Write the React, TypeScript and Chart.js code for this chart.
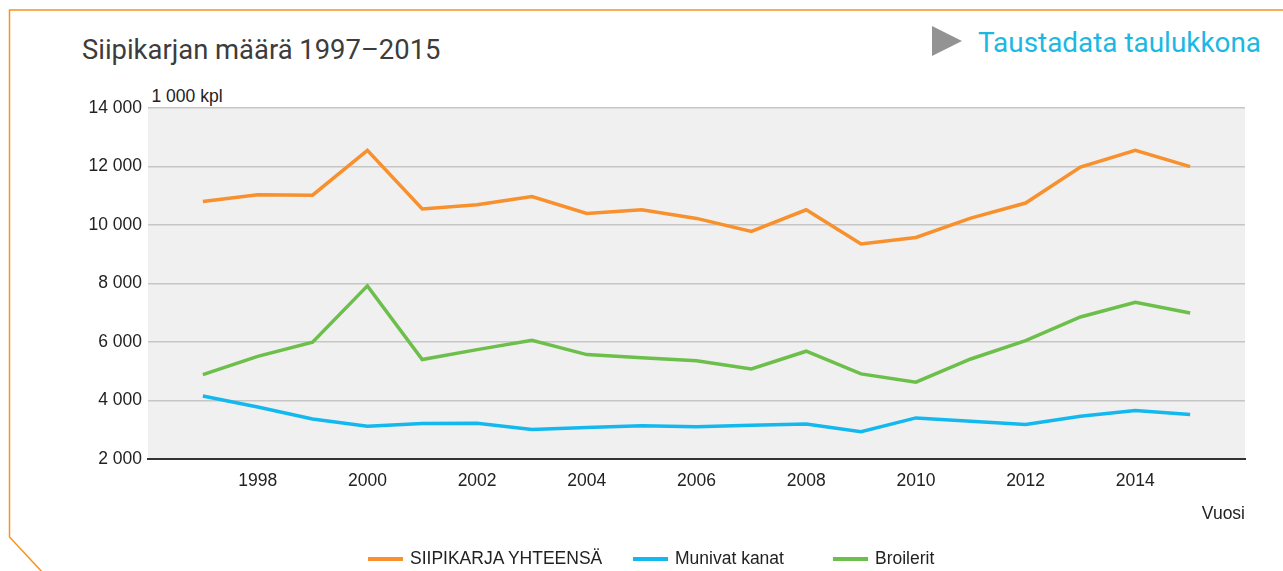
import React, { useEffect, useRef } from "react";
import { Chart, registerables } from "chart.js";

Chart.register(...registerables);

// ---- data ----
const years = [1997, 1998, 1999, 2000, 2001, 2002, 2003, 2004, 2005, 2006, 2007, 2008, 2009, 2010, 2011, 2012, 2013, 2014, 2015];
const totalPoultry = [10800, 11030, 11020, 12550, 10545, 10690, 10975, 10395, 10520, 10225, 9780, 10520, 9350, 9575, 10235, 10750, 11980, 12550, 11995];
const layingHens = [4155, 3780, 3370, 3120, 3210, 3220, 3005, 3075, 3140, 3105, 3150, 3200, 2930, 3405, 3290, 3180, 3460, 3655, 3520];
const broilers = [4885, 5510, 5990, 7920, 5400, 5740, 6055, 5570, 5465, 5355, 5080, 5685, 4910, 4625, 5420, 6045, 6855, 7355, 6990];
const xTickYears = [1998, 2000, 2002, 2004, 2006, 2008, 2010, 2012, 2014];
const yTickValues = [2000, 4000, 6000, 8000, 10000, 12000, 14000];
const seriesLabels = ["SIIPIKARJA YHTEENSÄ", "Munivat kanat", "Broilerit"];
const seriesColors = ["#f7902d", "#13b9ee", "#6cbf4a"];
const titleText = "Siipikarjan määrä 1997–2015";
const linkText = "Taustadata taulukkona";
const unitText = "1 000 kpl";
const xTitleText = "Vuosi";

const ARIAL = "'Liberation Sans', Arial, sans-serif";

const fmt = (v: number) => String(v).replace(/\B(?=(\d{3})+(?!\d))/g, " ");

const plotBg = {
  id: "plotBg",
  beforeDraw(chart: any) {
    const { ctx, chartArea: a } = chart;
    ctx.save();
    ctx.fillStyle = "#f0f0f0";
    ctx.fillRect(a.left, a.top, a.right - a.left, a.bottom - a.top);
    ctx.restore();
  },
};

export default function App() {
  const canvasRef = useRef<HTMLCanvasElement | null>(null);

  useEffect(() => {
    if (!canvasRef.current) return;
    const seriesValues = [totalPoultry, layingHens, broilers];
    const chart = new Chart(canvasRef.current, {
      type: "line",
      data: {
        datasets: seriesValues.map((vals, i) => ({
          label: seriesLabels[i],
          data: years.map((y, j) => ({ x: y, y: vals[j] })),
          borderColor: seriesColors[i],
          backgroundColor: seriesColors[i],
          borderWidth: 3.5,
          pointRadius: 0,
          tension: 0,
          fill: false,
        })),
      },
      options: {
        animation: false,
        responsive: false,
        devicePixelRatio: 1,
        layout: { padding: { top: 28, right: 38, bottom: 46, left: 0 } },
        plugins: { legend: { display: false }, tooltip: { enabled: false } },
        scales: {
          x: {
            type: "linear",
            min: 1996,
            max: 2016,
            afterBuildTicks: (ax: any) => {
              ax.ticks = xTickYears.map((v) => ({ value: v }));
            },
            afterFit: (s: any) => {
              s.height = 66;
            },
            grid: { display: false, drawTicks: false },
            border: { display: true, color: "#333333", width: 2 },
            ticks: {
              padding: 12,
              color: "#222222",
              font: { family: ARIAL, size: 17.5 },
              maxRotation: 0,
              callback: (v: any) => String(v),
            },
            title: {
              display: true,
              text: xTitleText,
              align: "end",
              color: "#222222",
              font: { family: ARIAL, size: 17.5 },
              padding: 0,
            },
          },
          y: {
            min: 2000,
            max: 14000,
            afterBuildTicks: (ax: any) => {
              ax.ticks = yTickValues.map((v) => ({ value: v }));
            },
            afterFit: (s: any) => {
              s.width = 148;
            },
            grid: { color: "#c6c6c6", lineWidth: 1.5, drawTicks: false },
            border: { display: false },
            ticks: {
              padding: 6,
              color: "#222222",
              font: { family: ARIAL, size: 17.5 },
              callback: (v: any) => fmt(Number(v)),
            },
          },
        },
      } as any,
      plugins: [plotBg],
    });
    return () => chart.destroy();
  }, []);

  const legendStarts = [368, 633, 833];

  return (
    <div style={{ position: "absolute", left: 0, top: 0, width: 1283, height: 571, overflow: "hidden", background: "#ffffff" }}>
      <svg width={1283} height={571} style={{ position: "absolute", left: 0, top: 0 }}>
        <polyline points="1290,10 9.5,10 9.5,537 44,574" fill="none" stroke="#f7931e" strokeWidth={1.5} />
      </svg>
      <div style={{ position: "absolute", left: 82, top: 35.5, fontFamily: "Roboto, sans-serif", fontSize: 27.4, lineHeight: "28px", color: "#3c3c3c", whiteSpace: "nowrap" }}>
        {titleText}
      </div>
      <div style={{ position: "absolute", left: 932, top: 26, width: 0, height: 0, borderTop: "15px solid transparent", borderBottom: "15px solid transparent", borderLeft: "30px solid #939393" }} />
      <div style={{ position: "absolute", left: 978, top: 28.5, fontFamily: "Roboto, sans-serif", fontSize: 27.9, lineHeight: "27px", color: "#1cb8e3", whiteSpace: "nowrap" }}>
        {linkText}
      </div>
      <div style={{ position: "absolute", left: 151.5, top: 87.5, fontFamily: ARIAL, fontSize: 17.5, lineHeight: "17px", color: "#222222", whiteSpace: "nowrap" }}>
        {unitText}
      </div>
      <canvas ref={canvasRef} width={1283} height={491} style={{ position: "absolute", left: 0, top: 80, width: 1283, height: 491, display: "block" }} />
      {seriesLabels.map((lab, i) => (
        <div key={lab} style={{ position: "absolute", left: legendStarts[i], top: 550, height: 17, display: "flex", alignItems: "center", whiteSpace: "nowrap" }}>
          <div style={{ width: 35, height: 4, background: seriesColors[i], marginRight: 7 }} />
          <span style={{ fontFamily: ARIAL, fontSize: 17.5, lineHeight: "17px", color: "#222222" }}>{lab}</span>
        </div>
      ))}
    </div>
  );
}
